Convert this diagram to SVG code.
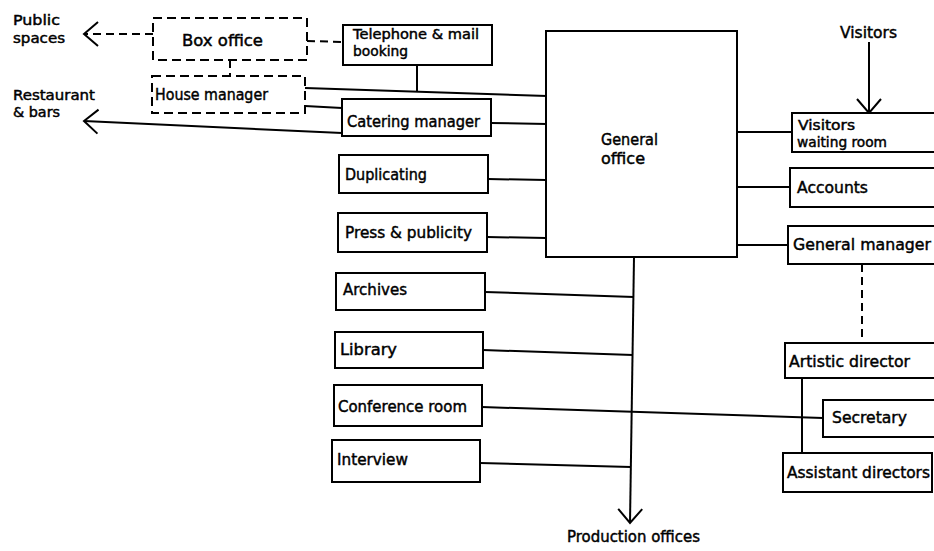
<svg xmlns="http://www.w3.org/2000/svg" width="934" height="551" viewBox="0 0 934 551">
<style>
.box{fill:#fff;stroke:#000;stroke-width:2}
.dbox{fill:#fff;stroke:#000;stroke-width:2;stroke-dasharray:9 5}
.ln{fill:none;stroke:#000;stroke-width:2}
.dl{fill:none;stroke:#000;stroke-width:2;stroke-dasharray:8 5}
text{font-family:"DejaVu Sans","Liberation Sans",sans-serif;font-size:15.5px;fill:#000;stroke:#000;stroke-width:0.45}
text.sm{font-size:13.5px}
</style>
<defs>
<marker id="arr" viewBox="-16 -15 18 30" refX="0" refY="0" markerWidth="18" markerHeight="30" markerUnits="userSpaceOnUse" orient="auto">
<path d="M-14,-12 L0,0 L-14,12" fill="none" stroke="#000" stroke-width="2" stroke-dasharray="none"/>
</marker>
</defs>
<g id="connectors">
<path class="dl" d="M153,34 L84,34" marker-end="url(#arr)"/>
<path class="dl" d="M307,41 L343,42"/>
<path class="dl" d="M230,60 L230,76"/>
<path class="ln" d="M305,88 L547,96"/>
<path class="ln" d="M417,65 L417,91"/>
<path class="ln" d="M305,106 L342,108"/>
<path class="ln" d="M342,133 L84,121" marker-end="url(#arr)"/>
<path class="ln" d="M491,123 L547,124"/>
<path class="ln" d="M488,179 L546,180"/>
<path class="ln" d="M487,237 L546,238"/>
<path class="ln" d="M485,292 L634,297"/>
<path class="ln" d="M483,350 L633,355"/>
<path class="ln" d="M482,407 L823,418"/>
<path class="ln" d="M480,463 L631,467"/>
<path class="ln" d="M634,257 L630,523" marker-end="url(#arr)"/>
<path class="ln" d="M869,42 L869,113" marker-end="url(#arr)"/>
<path class="ln" d="M737,132 L792,132"/>
<path class="ln" d="M736,187 L790,187"/>
<path class="ln" d="M735,245 L788,245"/>
<path class="dl" d="M862,264 L862,343"/>
<path class="ln" d="M802,378 L802,453"/>
</g>
<g id="public-spaces"><text class="sm" x="13" y="25" textLength="47" lengthAdjust="spacingAndGlyphs">Public</text><text class="sm" x="13" y="43" textLength="52" lengthAdjust="spacingAndGlyphs">spaces</text></g>
<g id="restaurant"><text class="sm" x="13" y="100" textLength="82" lengthAdjust="spacingAndGlyphs">Restaurant</text><text class="sm" x="13" y="117" textLength="47" lengthAdjust="spacingAndGlyphs">&amp; bars</text></g>
<g id="box-office"><rect class="dbox" x="153" y="18" width="154" height="42"/><text x="182" y="46" textLength="81" lengthAdjust="spacingAndGlyphs">Box office</text></g>
<g id="house-manager"><rect class="dbox" x="152" y="76" width="153" height="37"/><text x="155" y="100" textLength="113" lengthAdjust="spacingAndGlyphs">House manager</text></g>
<g id="telephone"><rect class="box" x="343" y="25" width="149" height="40"/><text class="sm" x="353" y="39" textLength="126" lengthAdjust="spacingAndGlyphs">Telephone &amp; mail</text><text class="sm" x="353" y="56" textLength="55" lengthAdjust="spacingAndGlyphs">booking</text></g>
<g id="catering"><rect class="box" x="342" y="99" width="149" height="37"/><text x="347" y="127" textLength="133" lengthAdjust="spacingAndGlyphs">Catering manager</text></g>
<g id="duplicating"><rect class="box" x="339" y="155" width="149" height="38"/><text x="345" y="180" textLength="82" lengthAdjust="spacingAndGlyphs">Duplicating</text></g>
<g id="press"><rect class="box" x="338" y="213" width="149" height="39"/><text x="345" y="238" textLength="127" lengthAdjust="spacingAndGlyphs">Press &amp; publicity</text></g>
<g id="archives"><rect class="box" x="336" y="273" width="149" height="37"/><text x="343" y="295" textLength="64" lengthAdjust="spacingAndGlyphs">Archives</text></g>
<g id="library"><rect class="box" x="335" y="332" width="148" height="36"/><text x="340" y="355" textLength="57" lengthAdjust="spacingAndGlyphs">Library</text></g>
<g id="conference"><rect class="box" x="334" y="385" width="148" height="41"/><text x="338" y="412" textLength="129" lengthAdjust="spacingAndGlyphs">Conference room</text></g>
<g id="interview"><rect class="box" x="332" y="440" width="148" height="42"/><text x="337" y="465" textLength="71" lengthAdjust="spacingAndGlyphs">Interview</text></g>
<g id="general-office"><rect class="box" x="546" y="31" width="191" height="226"/><text x="601" y="145" textLength="57" lengthAdjust="spacingAndGlyphs">General</text><text x="601" y="164" textLength="44" lengthAdjust="spacingAndGlyphs">office</text></g>
<g id="visitors"><text x="840" y="38" textLength="57" lengthAdjust="spacingAndGlyphs">Visitors</text></g>
<g id="waiting-room"><rect class="box" x="792" y="113" width="150" height="39"/><text class="sm" x="798" y="130" textLength="57" lengthAdjust="spacingAndGlyphs">Visitors</text><text class="sm" x="797" y="147" textLength="90" lengthAdjust="spacingAndGlyphs">waiting room</text></g>
<g id="accounts"><rect class="box" x="790" y="168" width="152" height="39"/><text x="797" y="193" textLength="71" lengthAdjust="spacingAndGlyphs">Accounts</text></g>
<g id="general-manager"><rect class="box" x="788" y="226" width="154" height="38"/><text x="793" y="250" textLength="138" lengthAdjust="spacingAndGlyphs">General manager</text></g>
<g id="artistic-director"><rect class="box" x="785" y="343" width="157" height="35"/><text x="789" y="367" textLength="121" lengthAdjust="spacingAndGlyphs">Artistic director</text></g>
<g id="secretary"><rect class="box" x="823" y="400" width="119" height="37"/><text x="832" y="423" textLength="75" lengthAdjust="spacingAndGlyphs">Secretary</text></g>
<g id="assistant-directors"><rect class="box" x="783" y="453" width="149" height="39"/><text x="787" y="478" textLength="143" lengthAdjust="spacingAndGlyphs">Assistant directors</text></g>
<g id="production-offices"><text x="567" y="542" textLength="133" lengthAdjust="spacingAndGlyphs">Production offices</text></g>
</svg>
